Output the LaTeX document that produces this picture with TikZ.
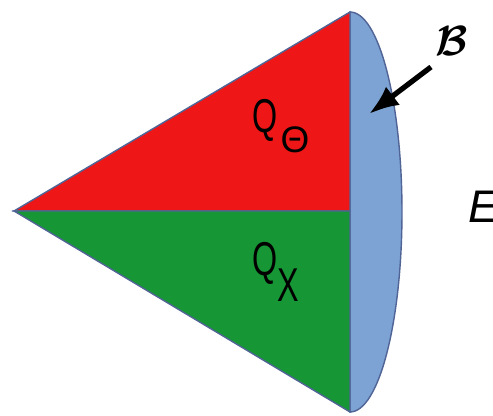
\documentclass[tikz,border=0pt]{standalone}
\usepackage{amsmath}
\usepackage{fontspec}
\setmainfont{Liberation Sans}
\usetikzlibrary{arrows.meta}
\definecolor{conered}{RGB}{238,22,22}
\definecolor{conegreen}{RGB}{22,150,52}
\definecolor{capblue}{RGB}{124,163,212}
\definecolor{edgeblue}{RGB}{80,100,150}
\newcommand{\narrow}[1]{\scalebox{0.68}[1]{#1}}
\begin{document}
\begin{tikzpicture}[x=0.01cm,y=-0.01cm,
    face/.style={draw=edgeblue,line width=0.4pt},
    lbl/.style={inner sep=0pt,anchor=base west}]
    \useasboundingbox (0,0) rectangle (493,416);
    \coordinate (apex) at (14,211);\coordinate (top) at (350,12);
    \coordinate (mid) at (350,211);\coordinate (bot) at (350,412);
    % cap and the two halves of the cone
    \filldraw[face,fill=capblue] (top) arc[start angle=-90,end angle=90,x radius=52,y radius=200] -- cycle;
    \filldraw[face,fill=conered] (apex) -- (top) -- (mid) -- cycle;
    \filldraw[face,fill=conegreen] (apex) -- (mid) -- (bot) -- cycle;
    \node[lbl,font=\fontsize{13.5}{14}\selectfont] (qth) at (252,133) {\narrow{Q}};
    \node[lbl,font=\fontsize{10.5}{11}\selectfont] (thsub) at (280,153) {Θ};
    \node[lbl,font=\fontsize{13.5}{14}\selectfont] (qx) at (252,276) {\narrow{Q}};
    \node[lbl,font=\fontsize{13.5}{14}\selectfont] (xsub) at (277,302) {\narrow{X}};
    \node[lbl,font=\fontsize{13}{14}\selectfont\itshape] (energy) at (468,223) {E};
    \node[inner sep=0pt,font=\fontsize{12}{13}\selectfont] (bdry) at (452,41) {$\boldsymbol{\mathcal{B}}$};
    \coordinate (tail) at (431,67);\coordinate (tip) at (369,114);
    \draw[line width=1.5pt,-{Latex[length=8.5pt,width=6.5pt]}] (tail) -- (tip);
\end{tikzpicture}
\end{document}
